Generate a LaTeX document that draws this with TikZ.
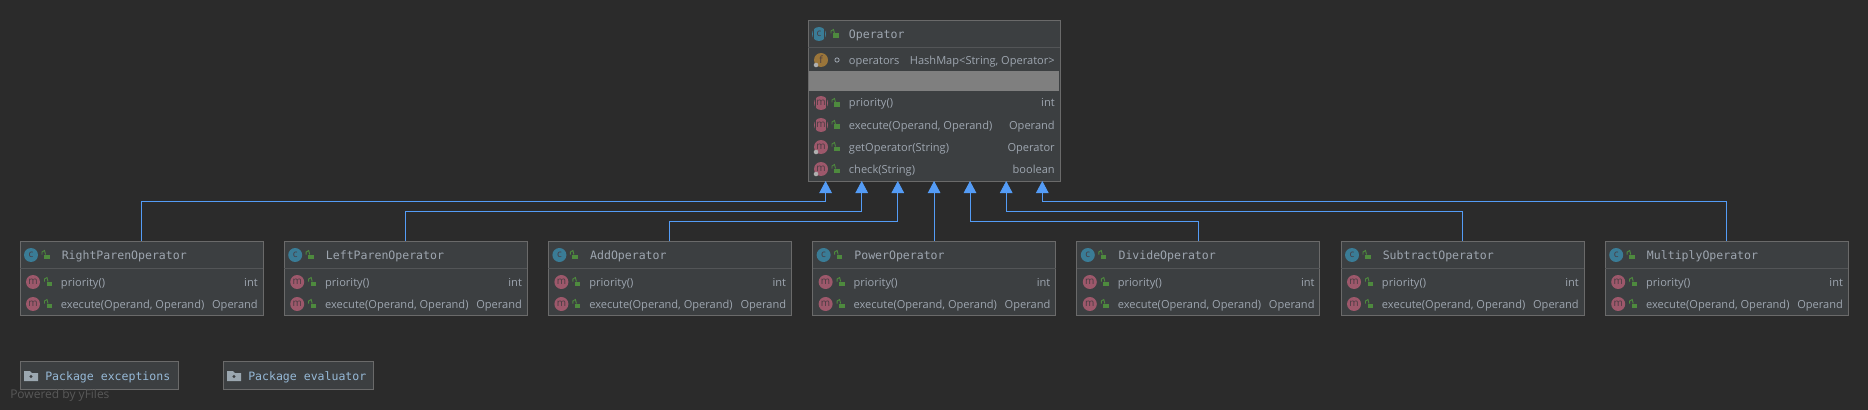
\documentclass[tikz,border=0pt]{standalone}
\usepackage{fontspec}
\setmainfont{Open Sans}
\setmonofont{DejaVu Sans Mono}
\usetikzlibrary{arrows.meta,positioning}
\definecolor{diagbg}{RGB}{43,43,43}
\definecolor{boxfill}{RGB}{60,63,65}
\definecolor{boxline}{RGB}{106,106,106}
\definecolor{sepline}{RGB}{83,85,87}
\definecolor{bandgrey}{RGB}{127,127,127}
\definecolor{labelgrey}{RGB}{158,166,176}
\definecolor{pkgtext}{RGB}{150,185,215}
\definecolor{folderg}{RGB}{155,167,176}
\definecolor{inhblue}{RGB}{84,156,246}
\definecolor{iconc}{RGB}{58,124,150}
\definecolor{iconm}{RGB}{157,88,107}
\definecolor{iconf}{RGB}{154,117,58}
\definecolor{icontext}{RGB}{72,60,66}
\definecolor{lockgreen}{RGB}{78,138,62}
\definecolor{markgrey}{RGB}{175,175,175}
\definecolor{yfilesgrey}{RGB}{88,88,88}

% lock, open to the left
\newcommand{\lockicon}[2]{%
    \fill[lockgreen] (#1-1,#2-0.5) rectangle (#1+4.5,#2+4);
    \draw[lockgreen, line width=0.7pt] (#1-3,#2-0.5) -- (#1-3,#2-3) -- (#1-0.5,#2-4.5) -- (#1+0.5,#2-0.5);
}
% stripes for abstract icons
\newcommand{\abstractmark}[2]{%
    \fill[boxfill] (#1-5.6,#2-8) rectangle (#1-4.6,#2+8);
    \fill[boxfill] (#1+4.6,#2-8) rectangle (#1+5.6,#2+8);
}
\newcommand{\opclass}[3]{%
    \node[classbox] (#1) at (#2+121.5,278) {};
    \draw[sep] (#2,268) -- (#2+243,268);
    \node[classicon] (#1-c) at (#2+11,255) {c};
    \lockicon{#2+25}{255}
    \node[titletxt] (#1-t) at (#2+41.5,259) {#3};
    \node[methicon] (#1-m1) at (#2+13,282) {m};
    \lockicon{#2+27.5}{282}
    \node[labeltxt] (#1-a) at (#2+40.7,286) {priority()};
    \node[typetxt] (#1-b) at (#2+238,286) {int};
    \node[methicon] (#1-m2) at (#2+13,304) {m};
    \lockicon{#2+27.5}{304}
    \node[labeltxt] (#1-d) at (#2+40.7,308) {execute(Operand, Operand)};
    \node[typetxt] (#1-e) at (#2+238,308) {Operand};
}

\begin{document}
\begin{tikzpicture}[x=0.75pt, y=-0.75pt,
    classbox/.style={rectangle, draw=boxline, fill=boxfill, line width=0.7pt, inner sep=0pt,
        minimum width=182.25pt, minimum height=55.5pt},
    sep/.style={draw=sepline, line width=0.7pt},
    titletxt/.style={anchor=base west, inner sep=0pt, text=labelgrey, font=\ttfamily\fontsize{8.65}{10}\selectfont},
    labeltxt/.style={anchor=base west, inner sep=0pt, text=labelgrey, font=\fontsize{8.3}{10}\selectfont},
    typetxt/.style={anchor=base east, inner sep=0pt, text=labelgrey, font=\fontsize{8.3}{10}\selectfont},
    classicon/.style={circle, fill=iconc, inner sep=0pt, minimum size=10.5pt, text=icontext, font=\fontsize{7.5}{7}\selectfont},
    methicon/.style={circle, fill=iconm, inner sep=0pt, minimum size=10.5pt, text=icontext, font=\fontsize{7.5}{7}\selectfont},
    fieldicon/.style={circle, fill=iconf, inner sep=0pt, minimum size=10.5pt, text=icontext, font=\fontsize{7.5}{7}\selectfont},
    staticmark/.style={circle, fill=markgrey, inner sep=0pt, minimum size=3.4pt},
    pkgbox/.style={rectangle, draw=boxline, fill=boxfill, line width=0.7pt, inner sep=0pt, minimum height=20.6pt},
    pkgtxt/.style={anchor=base west, inner sep=0pt, text=pkgtext, font=\ttfamily\fontsize{8.65}{10}\selectfont},
    arr/.style={-{Triangle[length=9pt,width=9.4pt]}, draw=inhblue, line width=0.65pt}
]
    \fill[diagbg] (0,0) rectangle (1868,410);

    % base class
    \node[rectangle, draw=boxline, fill=boxfill, line width=0.7pt, inner sep=0pt,
        minimum width=189pt, minimum height=120.75pt] (operator) at (934,100.5) {};
    \fill[bandgrey] (809,71) rectangle (1059,91);
    \draw[sep] (808,47) -- (1060,47);
    \node[classicon] (operator-c) at (819,34) {c};
    \abstractmark{819}{34}
    \lockicon{834}{34}
    \node[titletxt] (operator-t) at (848.7,38.5) {Operator};
    \node[fieldicon] (operators-f) at (821,60) {f};
    \node[staticmark] (operators-s) at (816,65) {};
    \node[circle, draw=labelgrey, line width=0.6pt, inner sep=0pt, minimum size=3.2pt] (operators-v) at (837,60) {};
    \node[labeltxt] (operators-a) at (848.7,65) {operators};
    \node[typetxt] (operators-b) at (1055,65) {HashMap<String, Operator>};

    \node[methicon] (priority-m) at (821,103) {m};
    \abstractmark{821}{103}
    \lockicon{835}{103}
    \node[labeltxt] (priority-a) at (848.7,107) {priority()};
    \node[typetxt] (priority-b) at (1055,107) {int};
    \node[methicon] (execute-m) at (821,125) {m};
    \abstractmark{821}{125}
    \lockicon{835}{125}
    \node[labeltxt] (execute-a) at (848.7,129) {execute(Operand, Operand)};
    \node[typetxt] (execute-b) at (1055,129) {Operand};
    \node[methicon] (getop-m) at (821,147) {m};
    \node[staticmark] (getop-s) at (816,152) {};
    \lockicon{835}{147}
    \node[labeltxt] (getop-a) at (848.7,151.5) {getOperator(String)};
    \node[typetxt] (getop-b) at (1055,151.5) {Operator};
    \node[methicon] (check-m) at (821,169) {m};
    \node[staticmark] (check-s) at (816,174) {};
    \lockicon{835}{169}
    \node[labeltxt] (check-a) at (848.7,173) {check(String)};
    \node[typetxt] (check-b) at (1055,173) {boolean};

    % subclasses
    \opclass{rightparen}{20}{RightParenOperator}
    \opclass{leftparen}{284.2}{LeftParenOperator}
    \opclass{add}{548.4}{AddOperator}
    \opclass{power}{812.6}{PowerOperator}
    \opclass{divide}{1076.8}{DivideOperator}
    \opclass{subtract}{1341}{SubtractOperator}
    \opclass{multiply}{1605.2}{MultiplyOperator}

    \coordinate (tip1) at (825.6,181);
    \coordinate (tip2) at (861.7,181);
    \coordinate (tip3) at (897.8,181);
    \coordinate (tip4) at (934.1,181);
    \coordinate (tip5) at (970,181);
    \coordinate (tip6) at (1006.2,181);
    \coordinate (tip7) at (1042.3,181);
    \draw[arr] (rightparen.north) -- ++(0,-39) -| (tip1);
    \draw[arr] (leftparen.north) -- ++(0,-29) -| (tip2);
    \draw[arr] (add.north) -- ++(0,-19) -| (tip3);
    \draw[arr] (power.north) -- (tip4);
    \draw[arr] (divide.north) -- ++(0,-19) -| (tip5);
    \draw[arr] (subtract.north) -- ++(0,-29) -| (tip6);
    \draw[arr] (multiply.north) -- ++(0,-39) -| (tip7);

    % packages
    \node[pkgbox, minimum width=118.5pt] (exceptions) at (99,375.5) {};
    \fill[folderg] (24,371) -- (30,371) -- (32,373) -- (38,373) -- (38,381) -- (24,381) -- cycle;
    \fill[boxfill] (31,376.5) circle (1.6);
    \node[pkgtxt] (exceptions-t) at (45,380) {Package exceptions};
    \node[pkgbox, minimum width=112.5pt] (evaluator) at (298,375.5) {};
    \fill[folderg] (227,371) -- (233,371) -- (235,373) -- (241,373) -- (241,381) -- (227,381) -- cycle;
    \fill[boxfill] (234,376.5) circle (1.6);
    \node[pkgtxt] (evaluator-t) at (248,380) {Package evaluator};

    \node[anchor=base west, inner sep=0pt, text=yfilesgrey, font=\fontsize{9}{10}\selectfont] (yfiles) at (10,398) {Powered by yFiles};
\end{tikzpicture}
\end{document}
